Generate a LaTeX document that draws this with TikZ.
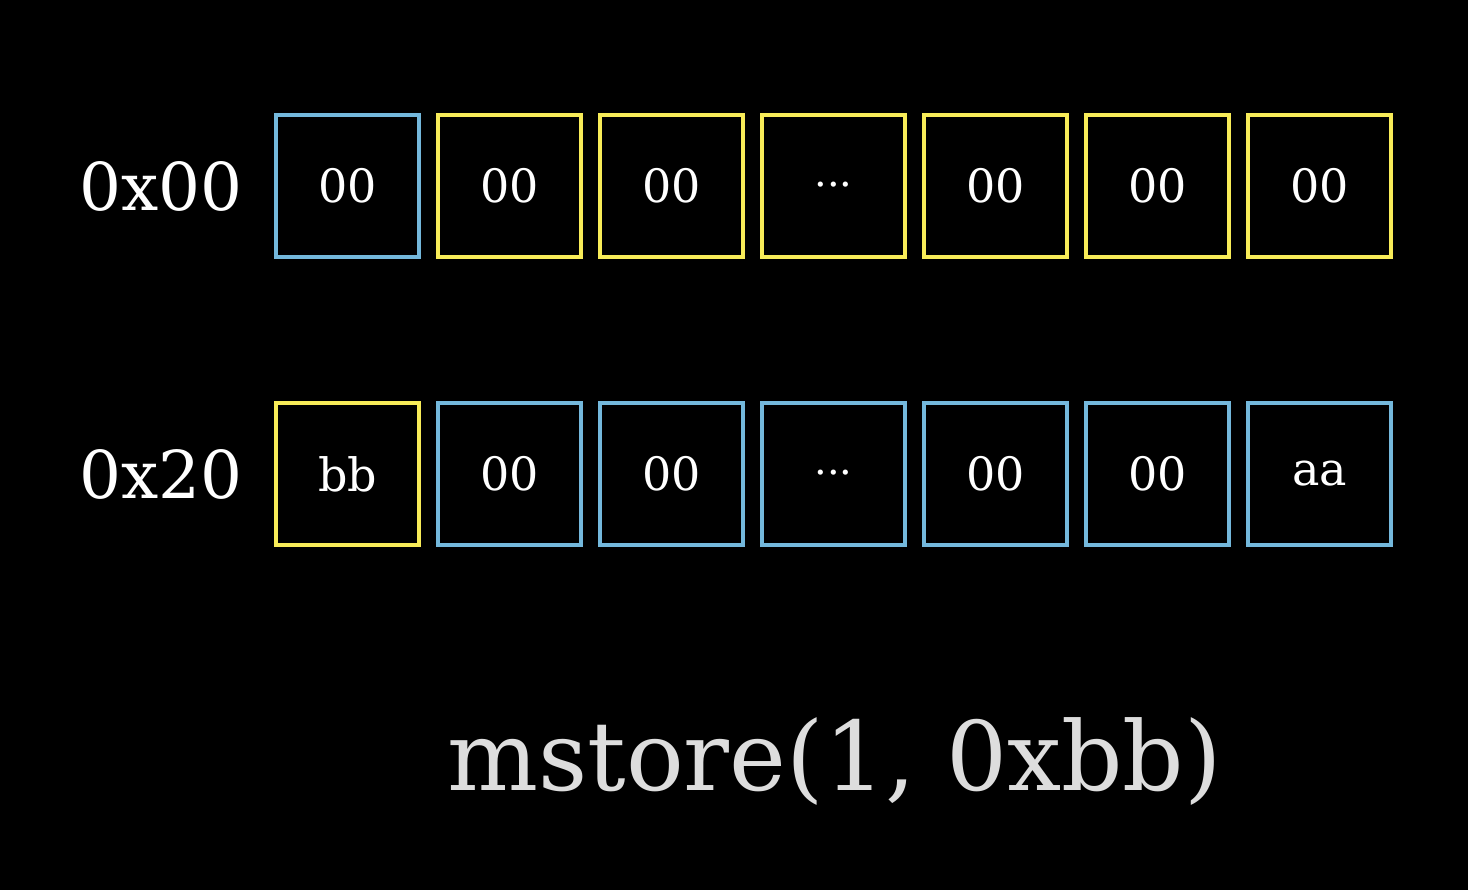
\documentclass[tikz,border=0pt]{standalone}
\usepackage{fontspec}
\setmainfont{DejaVu Serif}
\definecolor{cellblue}{HTML}{74B8DC}
\definecolor{cellyellow}{HTML}{F8EC58}
\definecolor{codegray}{HTML}{DDDDDD}
\begin{document}
\begin{tikzpicture}[x=1pt,y=-1pt,
  cell/.style={draw, line width=4pt, minimum width=143pt, minimum height=142pt, inner sep=0pt, text=white, font=\fontsize{46}{56}\selectfont},
  bcell/.style={cell, draw=cellblue},
  ycell/.style={cell, draw=cellyellow},
  dotstext/.style={text=white, inner sep=0pt, yshift=-4pt, font=\fontsize{40}{48}\selectfont},
  addr/.style={text=white, inner sep=0pt, font=\fontsize{66}{78}\selectfont},
  code/.style={text=codegray, inner sep=0pt, font=\fontsize{96}{116}\selectfont}]
\fill[black] (0,0) rectangle (1468,890);
\useasboundingbox (0,0) rectangle (1468,890);
% row 1
\node[addr] (l0) at (161,186) {0x00};
\node[bcell] (a0) at (347.5,186) {00};
\node[ycell] (a1) at (509.5,186) {00};
\node[ycell] (a2) at (671.5,186) {00};
\node[ycell] (a3) at (833.5,186) {};
\node[dotstext] (d3) at (a3.center) {···};
\node[ycell] (a4) at (995.5,186) {00};
\node[ycell] (a5) at (1157.5,186) {00};
\node[ycell] (a6) at (1319.5,186) {00};
% row 2
\node[addr] (l1) at (161,474) {0x20};
\node[ycell] (b0) at (347.5,474) {bb};
\node[bcell] (b1) at (509.5,474) {00};
\node[bcell] (b2) at (671.5,474) {00};
\node[bcell] (b3) at (833.5,474) {};
\node[dotstext] (e3) at (b3.center) {···};
\node[bcell] (b4) at (995.5,474) {00};
\node[bcell] (b5) at (1157.5,474) {00};
\node[bcell] (b6) at (1319.5,474) {aa};
% code
\node[code] (c) at (834.5,762) {mstore(1, 0xbb)};
\end{tikzpicture}
\end{document}
